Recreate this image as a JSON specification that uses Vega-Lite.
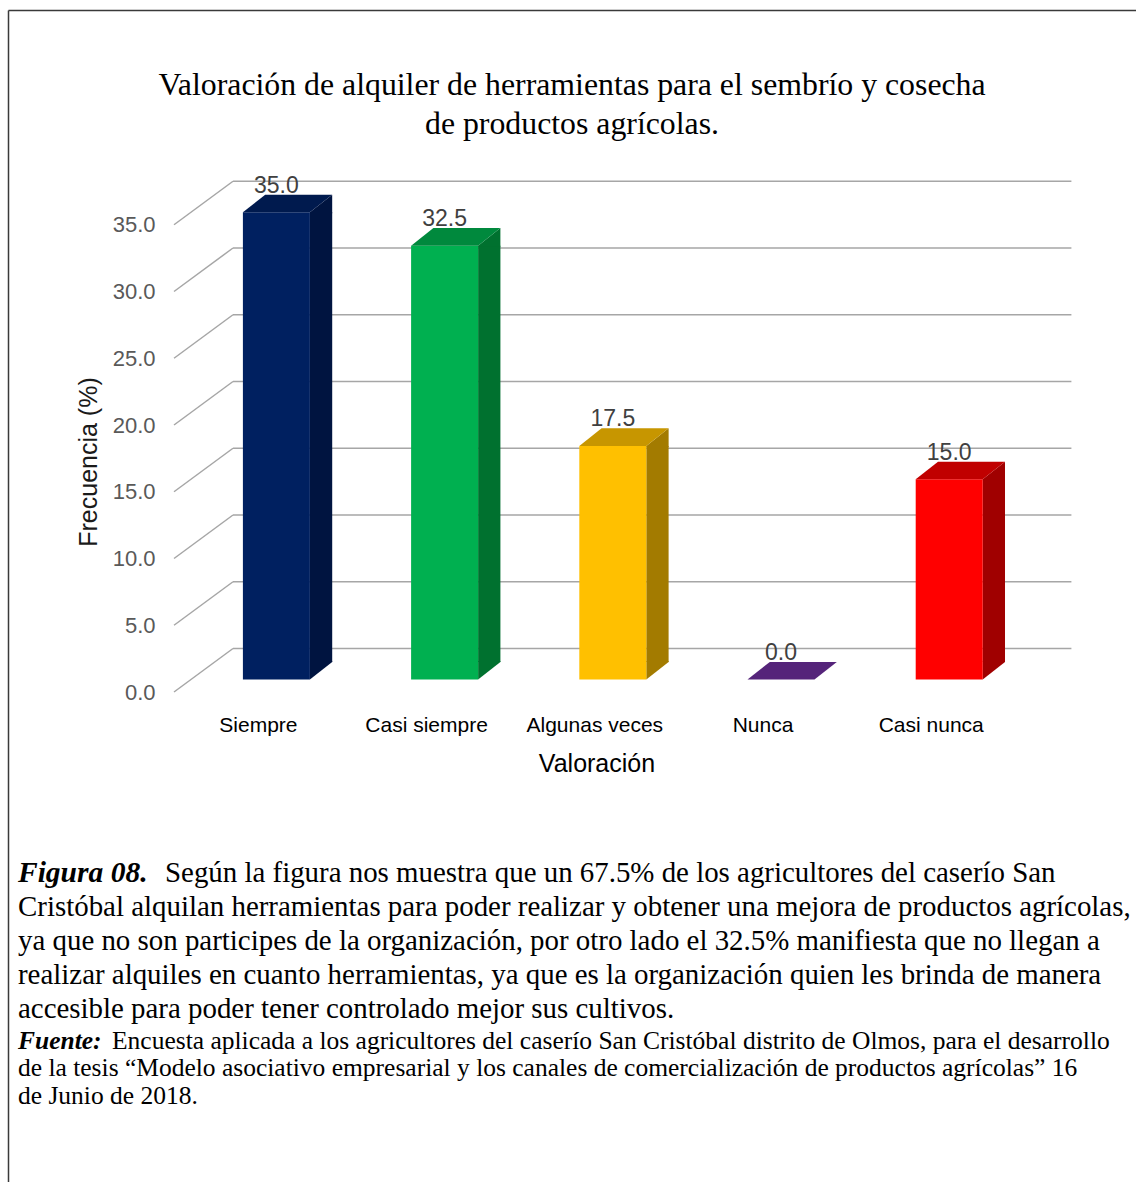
{
  "$schema": "https://vega.github.io/schema/vega-lite/v6.json",
  "width": 1128,
  "height": 1172,
  "autosize": {"type": "none"},
  "padding": {"left": 8, "top": 10, "right": 0, "bottom": 0},
  "background": "white",
  "config": {"view": {"stroke": null}},
  "title": {
    "text": ["Valoración de alquiler de herramientas para el sembrío y cosecha", "de productos agrícolas."],
    "font": "Liberation Serif",
    "fontSize": 31.8,
    "fontWeight": "normal",
    "color": "#000000",
    "anchor": "middle",
    "frame": "group",
    "offset": -131,
    "lineHeight": 39
  },
  "datasets": {
    "valoraciones": [
      {"valoracion": "Siempre", "frecuencia": 35.0},
      {"valoracion": "Casi siempre", "frecuencia": 32.5},
      {"valoracion": "Algunas veces", "frecuencia": 17.5},
      {"valoracion": "Nunca", "frecuencia": 0.0},
      {"valoracion": "Casi nunca", "frecuencia": 15.0}
    ],
    "grilla": [
      {"frecuencia": 0}, {"frecuencia": 5}, {"frecuencia": 10}, {"frecuencia": 15},
      {"frecuencia": 20}, {"frecuencia": 25}, {"frecuencia": 30}, {"frecuencia": 35}
    ],
    "descripcion": [
      {"linea": 1, "texto": "Según la figura nos muestra que un 67.5% de los agricultores del caserío San"},
      {"linea": 2, "texto": "Cristóbal alquilan herramientas para poder realizar y obtener una mejora de productos agrícolas,"},
      {"linea": 3, "texto": "ya que no son participes de la organización, por otro lado el 32.5% manifiesta que no llegan a"},
      {"linea": 4, "texto": "realizar alquiles en cuanto herramientas, ya que es la organización quien les brinda de manera"},
      {"linea": 5, "texto": "accesible para poder tener controlado mejor sus cultivos."}
    ],
    "fuente": [
      {"linea": 1, "texto": "Encuesta aplicada a los agricultores del caserío San Cristóbal distrito de Olmos, para el desarrollo"},
      {"linea": 2, "texto": "de la tesis “Modelo asociativo empresarial y los canales de comercialización de productos agrícolas” 16"},
      {"linea": 3, "texto": "de Junio de 2018."}
    ]
  },
  "layer": [
    {
      "layer": [
        {
          "data": {"name": "grilla"},
          "mark": {"type": "point", "shape": "M-43.4,-31L795,-31", "size": 4, "filled": false, "color": "#A6A6A6", "strokeWidth": 1.5, "opacity": 1},
          "encoding": {
            "x": {"datum": "Siempre", "type": "nominal", "title": "Valoración", "scale": {"type": "band", "domain": ["Siempre", "Casi siempre", "Algunas veces", "Nunca", "Casi nunca"], "paddingInner": 0.2937, "paddingOuter": 1, "align": 0.6213}},
            "y": {"field": "frecuencia", "type": "quantitative", "title": "Frecuencia (%)", "scale": {"domain": [-37.64, 50.15], "nice": false, "zero": false}}
          }
        },
        {
          "data": {"name": "grilla"},
          "mark": {"type": "point", "shape": "M-102.4,12.5L-43.4,-31", "size": 4, "filled": false, "color": "#A6A6A6", "strokeWidth": 1.5, "opacity": 1},
          "encoding": {
            "x": {"datum": "Siempre", "type": "nominal", "title": "Valoración", "scale": {"type": "band", "domain": ["Siempre", "Casi siempre", "Algunas veces", "Nunca", "Casi nunca"], "paddingInner": 0.2937, "paddingOuter": 1, "align": 0.6213}},
            "y": {"field": "frecuencia", "type": "quantitative", "title": "Frecuencia (%)", "scale": {"domain": [-37.64, 50.15], "nice": false, "zero": false}}
          }
        },
        {
          "data": {"name": "valoraciones"},
          "transform": [{"filter": "datum.frecuencia > 0"}],
          "mark": {"type": "bar", "width": 22.3, "xOffset": 44.65, "y2Offset": -17.6},
          "encoding": {
            "x": {"field": "valoracion", "type": "nominal", "title": "Valoración", "scale": {"type": "band", "domain": ["Siempre", "Casi siempre", "Algunas veces", "Nunca", "Casi nunca"], "paddingInner": 0.2937, "paddingOuter": 1, "align": 0.6213}},
            "y": {"field": "frecuencia", "type": "quantitative", "title": "Frecuencia (%)", "scale": {"domain": [-37.64, 50.15], "nice": false, "zero": false}},
            "y2": {"datum": 0},
            "color": {"field": "valoracion", "type": "nominal", "legend": null, "scale": {"domain": ["Siempre", "Casi siempre", "Algunas veces", "Nunca", "Casi nunca"], "range": ["#001440", "#00712F", "#A37B00", "#3F1A5C", "#A00000"]}}
          }
        },
        {
          "data": {"name": "valoraciones"},
          "transform": [{"filter": "datum.frecuencia > 0"}],
          "mark": {"type": "point", "shape": "M33.5,-18.6L55.8,-18.6L55.8,-17.6L33.5,0Z", "size": 4, "filled": true, "strokeWidth": 0, "opacity": 1},
          "encoding": {
            "x": {"field": "valoracion", "type": "nominal", "title": "Valoración", "scale": {"type": "band", "domain": ["Siempre", "Casi siempre", "Algunas veces", "Nunca", "Casi nunca"], "paddingInner": 0.2937, "paddingOuter": 1, "align": 0.6213}},
            "y": {"datum": 0, "type": "quantitative", "title": "Frecuencia (%)", "scale": {"domain": [-37.64, 50.15], "nice": false, "zero": false}},
            "color": {"field": "valoracion", "type": "nominal", "legend": null, "scale": {"domain": ["Siempre", "Casi siempre", "Algunas veces", "Nunca", "Casi nunca"], "range": ["#001440", "#00712F", "#A37B00", "#3F1A5C", "#A00000"]}}
          }
        },
        {
          "data": {"name": "valoraciones"},
          "transform": [{"filter": "datum.frecuencia > 0"}],
          "mark": {"type": "point", "shape": "M33.5,0L55.8,-17.6L55.8,1L33.5,1Z", "size": 4, "filled": true, "strokeWidth": 0, "opacity": 1},
          "encoding": {
            "x": {"field": "valoracion", "type": "nominal", "title": "Valoración", "scale": {"type": "band", "domain": ["Siempre", "Casi siempre", "Algunas veces", "Nunca", "Casi nunca"], "paddingInner": 0.2937, "paddingOuter": 1, "align": 0.6213}},
            "y": {"field": "frecuencia", "type": "quantitative", "title": "Frecuencia (%)", "scale": {"domain": [-37.64, 50.15], "nice": false, "zero": false}},
            "color": {"field": "valoracion", "type": "nominal", "legend": null, "scale": {"domain": ["Siempre", "Casi siempre", "Algunas veces", "Nunca", "Casi nunca"], "range": ["#001440", "#00712F", "#A37B00", "#3F1A5C", "#A00000"]}}
          }
        },
        {
          "data": {"name": "valoraciones"},
          "mark": {"type": "bar", "width": 67},
          "encoding": {
            "x": {
              "field": "valoracion", "type": "nominal", "title": "Valoración",
              "scale": {"type": "band", "domain": ["Siempre", "Casi siempre", "Algunas veces", "Nunca", "Casi nunca"], "paddingInner": 0.2937, "paddingOuter": 1, "align": 0.6213},
              "axis": {
                "orient": "top", "domain": true, "domainColor": "#3A3A3A", "domainWidth": 1.5,
                "ticks": false, "tickSize": 0, "grid": false,
                "labelPadding": -721, "labelBaseline": "alphabetic", "labelAlign": "center", "labelOffset": -18, "labelAngle": 0,
                "labelFont": "Liberation Sans", "labelFontSize": 21, "labelColor": "#000000",
                "labelOverlap": false, "labelFlush": false, "labelBound": false,
                "title": "Valoración", "titleFont": "Liberation Sans", "titleFontSize": 25, "titleFontWeight": "normal",
                "titleColor": "#000000", "titleX": 588.5, "titleY": 761.7, "titleAlign": "center", "titleBaseline": "alphabetic", "titleAngle": 0
              }
            },
            "y": {
              "field": "frecuencia", "type": "quantitative", "title": "Frecuencia (%)",
              "scale": {"domain": [-37.64, 50.15], "nice": false, "zero": false},
              "axis": {
                "orient": "left", "values": [0, 5, 10, 15, 20, 25, 30, 35], "format": ".1f",
                "grid": false, "ticks": false, "tickSize": 0,
                "domain": true, "domainColor": "#3A3A3A", "domainWidth": 1.5,
                "labelPadding": -147, "labelOffset": 12.5, "labelAlign": "right", "labelBaseline": "middle",
                "labelFont": "Liberation Sans", "labelFontSize": 22, "labelColor": "#595959",
                "labelOverlap": false, "labelFlush": false, "labelBound": false,
                "title": "Frecuencia (%)", "titleFont": "Liberation Sans", "titleFontSize": 25, "titleFontWeight": "normal",
                "titleColor": "#1A1A1A", "titleX": 80, "titleY": 451.5, "titleAngle": -90, "titleAlign": "center", "titleBaseline": "middle"
              }
            },
            "y2": {"datum": 0},
            "color": {"field": "valoracion", "type": "nominal", "legend": null, "scale": {"domain": ["Siempre", "Casi siempre", "Algunas veces", "Nunca", "Casi nunca"], "range": ["#002060", "#00B050", "#FFC000", "#7030A0", "#FF0000"]}}
          }
        },
        {
          "data": {"name": "valoraciones"},
          "mark": {"type": "point", "shape": "M-33.5,0L33.5,0L55.8,-17.6L-11.2,-17.6Z", "size": 4, "filled": true, "strokeWidth": 0, "opacity": 1},
          "encoding": {
            "x": {"field": "valoracion", "type": "nominal", "title": "Valoración", "scale": {"type": "band", "domain": ["Siempre", "Casi siempre", "Algunas veces", "Nunca", "Casi nunca"], "paddingInner": 0.2937, "paddingOuter": 1, "align": 0.6213}},
            "y": {"field": "frecuencia", "type": "quantitative", "title": "Frecuencia (%)", "scale": {"domain": [-37.64, 50.15], "nice": false, "zero": false}},
            "color": {"field": "valoracion", "type": "nominal", "legend": null, "scale": {"domain": ["Siempre", "Casi siempre", "Algunas veces", "Nunca", "Casi nunca"], "range": ["#001A4E", "#00893D", "#C79600", "#55247A", "#C00000"]}}
          }
        },
        {
          "data": {"name": "valoraciones"},
          "mark": {"type": "text", "dy": -26.5, "baseline": "middle", "align": "center", "font": "Liberation Sans", "fontSize": 23, "color": "#404040"},
          "encoding": {
            "x": {"field": "valoracion", "type": "nominal", "title": "Valoración", "scale": {"type": "band", "domain": ["Siempre", "Casi siempre", "Algunas veces", "Nunca", "Casi nunca"], "paddingInner": 0.2937, "paddingOuter": 1, "align": 0.6213}},
            "y": {"field": "frecuencia", "type": "quantitative", "title": "Frecuencia (%)", "scale": {"domain": [-37.64, 50.15], "nice": false, "zero": false}},
            "text": {"field": "frecuencia", "type": "quantitative", "format": ".1f"}
          }
        }
      ],
      "resolve": {"scale": {"color": "independent"}}
    },
    {
      "layer": [
        {
          "data": {"values": [{"rotulo": "Figura 08."}]},
          "mark": {"type": "text", "align": "left", "baseline": "alphabetic", "font": "Liberation Serif", "fontSize": 29.5, "fontStyle": "italic", "fontWeight": "bold", "color": "#000000"},
          "encoding": {
            "x": {"datum": 0, "type": "quantitative", "scale": {"domain": [0, 1], "range": [10, 1128]}, "axis": null},
            "y": {"datum": 1, "type": "quantitative", "scale": {"domain": [1, 5], "range": [872, 1008]}, "axis": null},
            "text": {"field": "rotulo"}
          }
        },
        {
          "data": {"name": "descripcion"},
          "transform": [{"filter": "datum.linea == 1"}],
          "mark": {"type": "text", "align": "left", "baseline": "alphabetic", "dx": 147, "font": "Liberation Serif", "fontSize": 28.9, "color": "#000000"},
          "encoding": {
            "x": {"datum": 0, "type": "quantitative", "scale": {"domain": [0, 1], "range": [10, 1128]}, "axis": null},
            "y": {"field": "linea", "type": "quantitative", "scale": {"domain": [1, 5], "range": [872, 1008]}, "axis": null},
            "text": {"field": "texto"}
          }
        },
        {
          "data": {"name": "descripcion"},
          "transform": [{"filter": "datum.linea > 1"}],
          "mark": {"type": "text", "align": "left", "baseline": "alphabetic", "font": "Liberation Serif", "fontSize": 28.9, "color": "#000000"},
          "encoding": {
            "x": {"datum": 0, "type": "quantitative", "scale": {"domain": [0, 1], "range": [10, 1128]}, "axis": null},
            "y": {"field": "linea", "type": "quantitative", "scale": {"domain": [1, 5], "range": [872, 1008]}, "axis": null},
            "text": {"field": "texto"}
          }
        }
      ]
    },
    {
      "layer": [
        {
          "data": {"values": [{"rotulo": "Fuente:"}]},
          "mark": {"type": "text", "align": "left", "baseline": "alphabetic", "font": "Liberation Serif", "fontSize": 25.5, "fontStyle": "italic", "fontWeight": "bold", "color": "#000000"},
          "encoding": {
            "x": {"datum": 0, "type": "quantitative", "scale": {"domain": [0, 1], "range": [10, 1128]}, "axis": null},
            "y": {"datum": 1, "type": "quantitative", "scale": {"domain": [1, 3], "range": [1038.5, 1093.5]}, "axis": null},
            "text": {"field": "rotulo"}
          }
        },
        {
          "data": {"name": "fuente"},
          "transform": [{"filter": "datum.linea == 1"}],
          "mark": {"type": "text", "align": "left", "baseline": "alphabetic", "dx": 94, "font": "Liberation Serif", "fontSize": 25.5, "color": "#000000"},
          "encoding": {
            "x": {"datum": 0, "type": "quantitative", "scale": {"domain": [0, 1], "range": [10, 1128]}, "axis": null},
            "y": {"field": "linea", "type": "quantitative", "scale": {"domain": [1, 3], "range": [1038.5, 1093.5]}, "axis": null},
            "text": {"field": "texto"}
          }
        },
        {
          "data": {"name": "fuente"},
          "transform": [{"filter": "datum.linea > 1"}],
          "mark": {"type": "text", "align": "left", "baseline": "alphabetic", "font": "Liberation Serif", "fontSize": 25.5, "color": "#000000"},
          "encoding": {
            "x": {"datum": 0, "type": "quantitative", "scale": {"domain": [0, 1], "range": [10, 1128]}, "axis": null},
            "y": {"field": "linea", "type": "quantitative", "scale": {"domain": [1, 3], "range": [1038.5, 1093.5]}, "axis": null},
            "text": {"field": "texto"}
          }
        }
      ]
    }
  ],
  "resolve": {"scale": {"x": "independent", "y": "independent"}}
}
